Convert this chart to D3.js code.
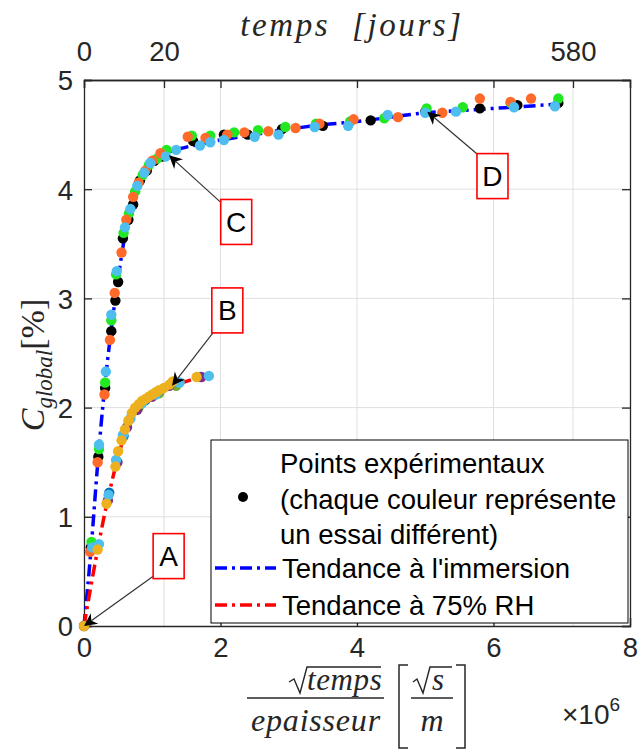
<!DOCTYPE html>
<html><head><meta charset="utf-8">
<script src="https://cdn.jsdelivr.net/npm/d3@7"></script>
<style>body{margin:0;background:#fff}svg{display:block}</style>
</head><body><svg id="c" width="639" height="751"></svg>
<script>
// ---------- DATA ----------
const xTicks = [0, 2, 4, 6, 8];
const yTicks = [0, 1, 2, 3, 4, 5];
const dayTicks = [0, 20, 580];
const dayTickX = [0, 1.172, 7.165]; // position of day ticks on sqrt(t)/e axis (x10^6)

// Immersion tests (x in 1e6 sqrt(s)/m, y in %)
const immBlack = [[0,0],[0.1,0.72],[0.21,1.55],[0.31,2.18],[0.4,2.7],[0.46,2.98],[0.5,3.15],[0.57,3.55],[0.65,3.72],[0.72,3.86],[0.82,4.08],[0.92,4.17],[1.03,4.26],[1.15,4.3],[1.6,4.44],[2.05,4.5],[2.4,4.5],[2.9,4.55],[3.5,4.58],[4.2,4.63],[5.0,4.71],[5.8,4.74],[6.35,4.77],[6.95,4.79]];
const immGreen = [[0.11,0.77],[0.22,1.62],[0.31,2.23],[0.4,2.8],[0.47,3.22],[0.58,3.6],[0.66,3.78],[0.75,3.98],[0.86,4.13],[0.95,4.22],[1.07,4.28],[1.21,4.36],[1.58,4.49],[1.85,4.49],[2.2,4.52],[2.55,4.54],[2.95,4.57],[3.4,4.6],[3.9,4.62],[4.4,4.65],[5.02,4.74],[5.55,4.75],[6.25,4.79],[6.95,4.83]];
const immOrange = [[0.09,0.68],[0.2,1.5],[0.3,2.12],[0.38,2.62],[0.45,3.05],[0.55,3.42],[0.62,3.72],[0.72,3.93],[0.8,4.06],[0.9,4.17],[1.0,4.26],[1.12,4.33],[1.52,4.48],[1.78,4.47],[2.1,4.5],[2.35,4.52],[2.7,4.53],[3.1,4.56],[3.45,4.6],[3.95,4.64],[4.6,4.66],[5.25,4.7],[5.8,4.83],[6.25,4.8],[6.55,4.83]];
const immLightBlue = [[0.12,0.72],[0.22,1.66],[0.32,2.33],[0.4,2.85],[0.48,3.25],[0.6,3.65],[0.68,3.82],[0.78,4.03],[0.88,4.15],[0.97,4.24],[1.2,4.3],[1.35,4.36],[1.7,4.4],[1.85,4.43],[2.05,4.45],[2.5,4.48],[2.85,4.5],[3.38,4.57],[3.87,4.58],[4.45,4.68],[5.0,4.7],[5.45,4.71],[6.3,4.75],[6.9,4.76]];

// 75% RH tests
const rhBlue = [[0.37,1.22],[0.58,1.74],[0.9,2.07]];
const rhGreen = [[0.8,2.0],[1.1,2.13],[1.35,2.2]];
const rhPurple = [[0.35,1.15],[0.49,1.5],[0.63,1.82],[0.78,1.98],[1.0,2.1],[1.25,2.2],[1.72,2.28]];
const rhLightBlue = [[0.22,0.75],[0.36,1.2],[0.47,1.52],[0.57,1.75],[0.68,1.9],[0.85,2.04],[1.05,2.12],[1.4,2.23],[1.83,2.29]];
const rhYellow = [[0,0],[0.2,0.7],[0.33,1.12],[0.46,1.46],[0.5,1.6],[0.55,1.7],[0.6,1.8],[0.65,1.88],[0.7,1.95],[0.75,2.0],[0.8,2.03],[0.85,2.06],[0.9,2.08],[0.95,2.1],[1.0,2.12],[1.05,2.14],[1.1,2.16],[1.17,2.18],[1.25,2.21],[1.3,2.24],[1.65,2.28]];

// trend curves
const trendImm = [[0,0],[0.1,0.68],[0.2,1.48],[0.3,2.17],[0.4,2.72],[0.5,3.18],[0.6,3.58],[0.7,3.87],[0.8,4.05],[0.9,4.17],[1.0,4.25],[1.2,4.33],[1.4,4.37],[1.6,4.4],[2.0,4.45],[2.5,4.5],[3.0,4.55],[3.5,4.59],[4.0,4.62],[4.5,4.66],[5.0,4.7],[5.5,4.72],[6.0,4.74],[6.5,4.76],[6.95,4.78]];
const trendRH = [[0,0],[0.1,0.36],[0.2,0.7],[0.3,1.02],[0.4,1.3],[0.5,1.55],[0.6,1.76],[0.7,1.91],[0.8,2.01],[0.9,2.07],[1.0,2.12],[1.2,2.18],[1.4,2.22],[1.6,2.26]];

// annotations: label, arrow tip (data), arrow tail (data), box centre (data)
const annLabels = ['A','B','C','D'];
const annTips = [[0,0],[1.29,2.2],[1.245,4.31],[5.03,4.71]];
const annTails = [[1.07,0.48],[1.92,2.71],[2.02,3.87],[5.82,4.29]];
const annBoxes = [[1.24,0.64],[2.10,2.89],[2.23,3.70],[5.985,4.12]];

const legendLines = ["Points expérimentaux","(chaque couleur représente","un essai différent)","Tendance à l'immersion","Tendance à 75% RH"];

// ---------- DRAW ----------
const svg = d3.select('#c');
const L=84, R=630, T=80, B=626;
const x = d3.scaleLinear().domain([0,8]).range([L,R]);
const y = d3.scaleLinear().domain([0,5]).range([B,T]);
const dayToX = d3.scaleLinear().domain(dayTicks).range(dayTickX);
const axisCol = '#262626';
const sans = 'Liberation Sans, Arial, Helvetica, sans-serif';
const serif = "'Liberation Serif', 'Times New Roman', serif";

// grid
const gx = [2,4,6].concat(dayTicks.slice(1).map(dayToX));
svg.append('g').selectAll('line').data(gx).join('line')
  .attr('x1',d=>x(d)).attr('x2',d=>x(d)).attr('y1',T).attr('y2',B)
  .attr('stroke','#dfdfdf').attr('stroke-width',1);
svg.append('g').selectAll('line').data([1,2,3,4]).join('line')
  .attr('y1',d=>y(d)).attr('y2',d=>y(d)).attr('x1',L).attr('x2',R)
  .attr('stroke','#dfdfdf').attr('stroke-width',1);

// axes
const tickLen = 8;
const ax = svg.append('g').attr('transform',`translate(0,${B})`)
  .call(d3.axisBottom(x).tickValues(xTicks).tickSize(-tickLen).tickPadding(11).tickFormat(d3.format('d')));
const ay = svg.append('g').attr('transform',`translate(${L},0)`)
  .call(d3.axisLeft(y).tickValues(yTicks).tickSize(-tickLen).tickPadding(11).tickFormat(d3.format('d')));
const axt = svg.append('g').attr('transform',`translate(0,${T})`)
  .call(d3.axisTop(x).tickValues([2,4,6]).tickSize(-tickLen).tickFormat(''));
const axd = svg.append('g').attr('transform',`translate(0,${T})`)
  .call(d3.axisTop(x).tickValues(dayTickX).tickSize(-tickLen).tickPadding(19)
     .tickFormat((d,i)=>dayTicks[i]));
const ayr = svg.append('g').attr('transform',`translate(${R},0)`)
  .call(d3.axisRight(y).tickValues(yTicks).tickSize(-tickLen).tickFormat(''));
[ax,ay,axt,axd,ayr].forEach(g=>{
  g.selectAll('.domain').attr('stroke',axisCol).attr('stroke-width',1.3);
  g.selectAll('.tick line').attr('stroke',axisCol).attr('stroke-width',1.3);
  g.selectAll('text').attr('font-family',sans).attr('font-size',27.5).attr('fill',axisCol);
});
ay.selectAll('.tick text').attr('dy','0.36em');

// trend lines
const line = d3.line().x(d=>x(d[0])).y(d=>y(d[1])).curve(d3.curveMonotoneX);
svg.append('path').datum(trendImm).attr('d',line).attr('fill','none')
  .attr('stroke','#0000ff').attr('stroke-width',3.5).attr('stroke-dasharray','12,5,3,5');
svg.append('path').datum(trendRH).attr('d',line).attr('fill','none')
  .attr('stroke','#ff0000').attr('stroke-width',3.5).attr('stroke-dasharray','12,5,3,5');

// points
const r = 5.2;
function pts(data,col){
  svg.append('g').selectAll('circle').data(data).join('circle')
    .attr('cx',d=>x(d[0])).attr('cy',d=>y(d[1])).attr('r',r).attr('fill',col);
}
pts(immBlack,'#000000');
pts(immGreen,'#22e822');
pts(immOrange,'#ff6a2a');
pts(immLightBlue,'#4dbeee');
pts(rhBlue,'#0072bd');
pts(rhGreen,'#77ac30');
pts(rhPurple,'#7e2f8e');
pts(rhLightBlue,'#4dbeee');
pts(rhYellow,'#edb120');

// annotations
annLabels.forEach((lab,i)=>{
  const tx=x(annTips[i][0]), ty=y(annTips[i][1]);
  const sx=x(annTails[i][0]), sy=y(annTails[i][1]);
  const ang=Math.atan2(ty-sy,tx-sx);
  const hl=13, hw=6.5, back=9;
  svg.append('line').attr('x1',sx).attr('y1',sy)
    .attr('x2',tx-Math.cos(ang)*back).attr('y2',ty-Math.sin(ang)*back)
    .attr('stroke','#333').attr('stroke-width',1.2);
  const p=(a,d,o)=>[tx-Math.cos(ang)*d - Math.sin(ang)*o, ty-Math.sin(ang)*d + Math.cos(ang)*o];
  svg.append('path').attr('d',d3.line()([p(0,0,0),p(0,hl,hw),p(0,back,0),p(0,hl,-hw)])+'Z').attr('fill','#000');
  const cx=x(annBoxes[i][0]), cy=y(annBoxes[i][1]);
  svg.append('rect').attr('x',cx-15.5).attr('y',cy-22.5).attr('width',31).attr('height',45)
    .attr('fill','#fff').attr('stroke','#ff0000').attr('stroke-width',1.6);
  svg.append('text').attr('x',cx).attr('y',cy).attr('dy','0.36em').attr('text-anchor','middle')
    .attr('font-family',sans).attr('font-size',28).attr('fill','#000').text(lab);
});

// legend
const lg = svg.append('g');
lg.append('rect').attr('x',211).attr('y',440).attr('width',417).attr('height',183)
  .attr('fill','#fff').attr('stroke','#000').attr('stroke-width',1);
const ly=[463,499,534,568,605];
lg.selectAll('text').data(legendLines).join('text')
  .attr('x',(d,i)=>i<3?280:282).attr('y',(d,i)=>ly[i]).attr('dy','0.36em')
  .attr('font-family',sans).attr('font-size',27.5).attr('fill','#000').text(d=>d);
lg.append('circle').attr('cx',243).attr('cy',497).attr('r',5).attr('fill','#000');
lg.append('line').attr('x1',215).attr('x2',276).attr('y1',568).attr('y2',568)
  .attr('stroke','#0000ff').attr('stroke-width',3.5).attr('stroke-dasharray','12,5,3,5');
lg.append('line').attr('x1',215).attr('x2',276).attr('y1',605).attr('y2',605)
  .attr('stroke','#ff0000').attr('stroke-width',3.5).attr('stroke-dasharray','12,5,3,5');

// top label
svg.append('text').attr('x',352).attr('y',36).attr('text-anchor','middle')
  .attr('font-family',serif).attr('font-style','italic').attr('font-size',33).attr('letter-spacing',2.6).attr('fill','#262626')
  .attr('xml:space','preserve').text('temps  [jours]');

// left label
const yl = svg.append('text').attr('transform','translate(44,365) rotate(-90)').attr('text-anchor','middle')
  .attr('font-family',serif).attr('font-size',34).attr('fill','#262626');
yl.append('tspan').attr('font-style','italic').text('C');
yl.append('tspan').attr('font-style','italic').attr('font-size',23).attr('dy',8).text('global');
yl.append('tspan').attr('dy',-8).text('[%]');

// bottom label (fraction)
const bl = svg.append('g').attr('fill','#262626').attr('font-family',serif);
bl.append('path').attr('d','M289,682 L294,679 L300,693 L307,667 L381,667').attr('fill','none').attr('stroke','#262626').attr('stroke-width',1.4);
bl.append('text').attr('x',307).attr('y',690).attr('font-style','italic').attr('font-size',31).attr('letter-spacing',0.6).text('temps');
bl.append('line').attr('x1',247).attr('x2',384).attr('y1',698).attr('y2',698).attr('stroke','#262626').attr('stroke-width',1.5);
bl.append('text').attr('x',316).attr('y',731).attr('text-anchor','middle').attr('font-style','italic').attr('font-size',32).attr('letter-spacing',0.8).text('epaisseur');
bl.append('path').attr('d','M408,665 L399,665 L399,748 L408,748').attr('fill','none').attr('stroke','#262626').attr('stroke-width',1.5);
bl.append('path').attr('d','M456,665 L465,665 L465,748 L456,748').attr('fill','none').attr('stroke','#262626').attr('stroke-width',1.5);
bl.append('path').attr('d','M413,682 L417,679 L423,693 L430,667 L452,667').attr('fill','none').attr('stroke','#262626').attr('stroke-width',1.4);
bl.append('text').attr('x',432).attr('y',690).attr('font-style','italic').attr('font-size',31).text('s');
bl.append('line').attr('x1',411).attr('x2',453).attr('y1',698).attr('y2',698).attr('stroke','#262626').attr('stroke-width',1.5);
bl.append('text').attr('x',432).attr('y',731).attr('text-anchor','middle').attr('font-style','italic').attr('font-size',32).text('m');

// x10^6
const ex = svg.append('text').attr('x',562).attr('y',724).attr('font-family',sans).attr('font-size',28).attr('fill','#262626');
ex.append('tspan').text('×10');
ex.append('tspan').attr('font-size',19).attr('dy',-13).text('6');
</script></body></html>
